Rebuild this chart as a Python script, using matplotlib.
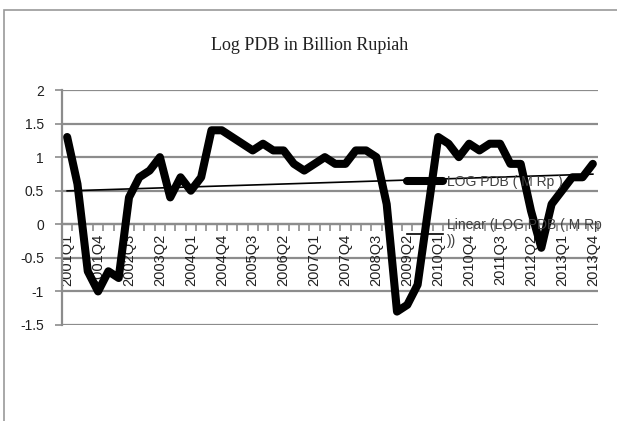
#!/usr/bin/env python3
"""Log PDB in Billion Rupiah - quarterly series with linear trend (Excel-style)."""

import numpy as np
import matplotlib
matplotlib.use("Agg")
import matplotlib.pyplot as plt
from matplotlib.patches import Rectangle

# quarters 2001Q1 .. 2013Q4
years = list(range(2001, 2014))
quarters = [f"{y}Q{q}" for y in years for q in range(1, 5)]

log_pdb = [
    1.3, 0.6, -0.7, -1.0, -0.7, -0.8, 0.4, 0.7, 0.8, 1.0,
    0.4, 0.7, 0.5, 0.7, 1.4, 1.4, 1.3, 1.2, 1.1, 1.2,
    1.1, 1.1, 0.9, 0.8, 0.9, 1.0, 0.9, 0.9, 1.1, 1.1,
    1.0, 0.3, -1.3, -1.2, -0.9, 0.2, 1.3, 1.2, 1.0, 1.2,
    1.1, 1.2, 1.2, 0.9, 0.9, 0.2, -0.35, 0.3, 0.5, 0.7,
    0.7, 0.9,
]

y_ticks = [-1.5, -1, -0.5, 0, 0.5, 1, 1.5, 2]
y_tick_labels = ["-1.5", "-1", "-0.5", "0", "0.5", "1", "1.5", "2"]

series_label = "LOG PDB ( M Rp )"
trend_label = "Linear (LOG PDB ( M Rp\n))"

GRID = "#8c8c8c"
W, H = 617, 421

plt.rcParams["font.family"] = ["Liberation Sans", "DejaVu Sans"]

fig = plt.figure(figsize=(W / 100, H / 100), dpi=100)
fig.patch.set_facecolor("white")

# chart area frame (left + top visible)
fig.add_artist(Rectangle((4 / W, -0.1), 1.2, 1 - 10 / H + 0.1,
                         transform=fig.transFigure, fill=False,
                         edgecolor="#999999", linewidth=1.2))

ax = fig.add_axes([62 / W, 1 - 325 / H, (598 - 62) / W, (325 - 90) / H])

x = np.arange(len(quarters))
y = np.array(log_pdb)

slope, intercept = np.polyfit(x, y, 1)
trend = slope * x + intercept

line_main, = ax.plot(x, y, color="black", linewidth=5.8,
                     solid_joinstyle="round", solid_capstyle="round", zorder=3)
line_trend, = ax.plot(x, trend, color="black", linewidth=1.2, zorder=4)

ax.set_xlim(-0.5, len(quarters) - 0.5)
ax.set_ylim(-1.5, 2)

# horizontal gridlines
for t in y_ticks:
    ax.axhline(t, color=GRID, linewidth=1.6, zorder=1)

ax.set_yticks(y_ticks)
ax.set_yticklabels(y_tick_labels)
ax.tick_params(axis="y", direction="out", length=5, width=1.2, color=GRID,
               pad=8, labelsize=10, labelcolor="#202020")

for s in ["top", "right"]:
    ax.spines[s].set_visible(False)
ax.spines["left"].set_color(GRID)
ax.spines["left"].set_linewidth(1.6)
ax.spines["bottom"].set_position(("data", 0))
ax.spines["bottom"].set_color(GRID)
ax.spines["bottom"].set_linewidth(1.6)

# category boundary ticks, labels every third quarter
ax.set_xticks(np.arange(-0.5, len(quarters), 1.0))
ax.set_xticklabels([])
ax.tick_params(axis="x", which="major", direction="out", length=5,
               width=1.2, color=GRID)
label_pos = x[::3]
ax.set_xticks(label_pos, minor=True)
ax.set_xticklabels([quarters[i] for i in label_pos], minor=True,
                   rotation=90, fontsize=10.5, color="#202020")
ax.tick_params(axis="x", which="minor", length=0, pad=7)

ax.set_facecolor("none")

fig.text(310 / W, 1 - 46 / H, "Log PDB in Billion Rupiah",
         ha="center", va="center", fontsize=13,
         family=["Liberation Serif", "DejaVu Serif"], color="#202020")

ax.legend([line_main, line_trend], [series_label, trend_label],
          loc="upper left", bbox_to_anchor=(407 / W, 1 - 175 / H),
          bbox_transform=fig.transFigure, frameon=False,
          fontsize=10, handlelength=2.6, handletextpad=0.25,
          labelspacing=2.1, borderpad=0, borderaxespad=0,
          labelcolor="#404040")

fig.savefig("out.png", dpi=100, facecolor="white")
